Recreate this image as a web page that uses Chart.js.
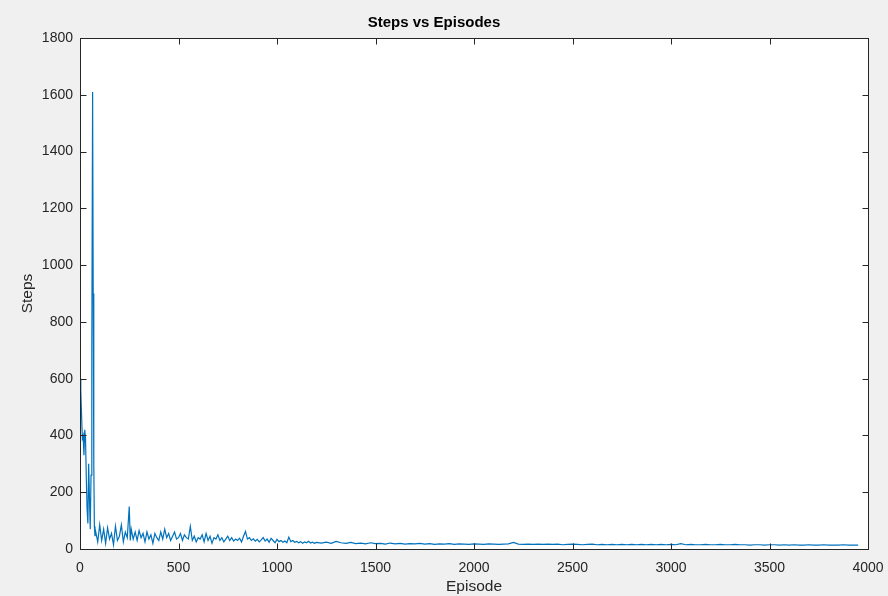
<!DOCTYPE html>
<html>
<head>
<meta charset="utf-8">
<script src="https://cdn.jsdelivr.net/npm/chart.js@4.4.1/dist/chart.umd.min.js"></script>
<style>
  html, body { margin: 0; padding: 0; background: #f0f0f0; }
  #wrap { width: 888px; height: 596px; }
</style>
</head>
<body>
<div id="wrap"><canvas id="c" width="888" height="596"></canvas></div>
<script>
const chartTitle = "Steps vs Episodes";
const xLabel = "Episode";
const yLabel = "Steps";
const xTicks = [0, 500, 1000, 1500, 2000, 2500, 3000, 3500, 4000];
const yTicks = [0, 200, 400, 600, 800, 1000, 1200, 1400, 1600, 1800];

const episodes = [
  0,4,8,12,16,20,24,28,32,36,40,44,48,52,56,60,64,67,70,73,76,
  80,90,100,110,120,130,140,150,160,170,180,190,200,210,220,230,240,250,255,260,270,280,290,
  300,310,320,330,340,350,360,370,380,390,400,410,420,430,440,450,460,470,480,490,
  500,510,520,530,540,550,560,570,580,590,600,610,620,630,640,650,660,670,680,690,
  700,710,720,730,740,750,760,770,780,790,800,810,820,830,840,850,860,870,880,890,
  900,910,920,930,940,950,960,970,980,990,1000,1010,1020,1030,1040,1050,1060,1070,1080,1090,
  1100,1110,1120,1130,1140,1150,1160,1170,1180,1190,1200,
  1225,1250,1275,1300,1325,1350,1375,1400,1425,1450,1475,1500,1525,1550,1575,1600,1625,1650,1675,1700,
  1725,1750,1775,1800,1825,1850,1875,1900,1925,1950,1975,2000,2025,2050,2075,2100,2125,2150,2175,2200,
  2225,2250,2275,2300,2325,2350,2375,2400,2425,2450,2475,2500,2525,2550,2575,2600,2625,2650,2675,2700,
  2725,2750,2775,2800,2825,2850,2875,2900,2925,2950,2975,3000,3025,3050,3075,3100,3125,3150,3175,3200,
  3225,3250,3275,3300,3325,3350,3375,3400,3425,3450,3475,3500,3525,3550,3575,3600,3625,3650,3675,3700,
  3725,3750,3775,3800,3825,3850,3875,3900,3925,3950
];
const steps = [
  600,560,470,390,400,330,420,390,250,140,90,300,180,70,260,700,1610,900,300,80,45,
  60,25,85,30,70,20,75,35,55,15,80,30,45,85,25,60,40,150,30,70,35,60,30,
  65,40,55,25,60,35,50,20,55,40,30,60,35,70,40,55,30,45,60,35,
  40,55,30,50,40,35,80,30,45,25,40,35,50,25,55,30,45,20,40,35,
  50,30,40,25,35,45,30,40,28,35,30,38,25,45,62,35,40,30,36,28,
  34,25,32,40,28,35,24,38,30,22,34,26,30,24,28,22,42,26,30,24,
  27,22,26,20,25,22,27,21,24,20,23,
  21,24,20,27,22,20,23,19,21,18,22,19,20,17,21,18,20,17,19,18,
  20,17,19,16,18,17,19,16,18,17,16,18,17,16,18,17,16,17,18,23,
  17,16,17,16,17,16,17,16,17,15,16,17,16,15,16,17,15,16,15,16,
  15,16,15,16,15,16,15,16,15,16,15,16,15,19,15,16,15,15,16,15,
  15,16,15,15,16,15,15,14,15,15,14,15,15,14,15,14,15,14,14,15,
  14,14,15,14,14,14,15,14,14,14
];

const points = episodes.map((e, i) => ({ x: e, y: steps[i] }));
const axisColor = "#262626";
const fontFam = "'Liberation Sans', Arial, Helvetica, sans-serif";

const frame = {
  id: "frame",
  beforeDraw(chart) {
    const { ctx, chartArea: a } = chart;
    ctx.save();
    ctx.fillStyle = "#f0f0f0";
    ctx.fillRect(0, 0, chart.width, chart.height);
    ctx.fillStyle = "#ffffff";
    ctx.fillRect(a.left, a.top, a.right - a.left, a.bottom - a.top);
    ctx.restore();
  },
  afterDraw(chart) {
    const { ctx, chartArea: a, scales } = chart;
    ctx.save();
    ctx.strokeStyle = axisColor;
    ctx.lineWidth = 1;
    const L = Math.round(a.left) + 0.5, R = Math.round(a.right) + 0.5;
    const T = Math.round(a.top) + 0.5, B = Math.round(a.bottom) + 0.5;
    ctx.strokeRect(L, T, R - L, B - T);
    const tl = 6;
    ctx.beginPath();
    xTicks.forEach(v => {
      const px = Math.round(scales.x.getPixelForValue(v)) + 0.5;
      ctx.moveTo(px, B); ctx.lineTo(px, B - tl);
      ctx.moveTo(px, T); ctx.lineTo(px, T + tl);
    });
    yTicks.forEach(v => {
      const py = Math.round(scales.y.getPixelForValue(v)) + 0.5;
      ctx.moveTo(L, py); ctx.lineTo(L + tl, py);
      ctx.moveTo(R, py); ctx.lineTo(R - tl, py);
    });
    ctx.stroke();
    ctx.restore();
  }
};

new Chart(document.getElementById("c"), {
  type: "line",
  data: {
    datasets: [{
      data: points,
      borderColor: "#0072BD",
      borderWidth: 1.2,
      pointRadius: 0,
      tension: 0,
      fill: false
    }]
  },
  options: {
    responsive: false,
    animation: false,
    devicePixelRatio: 1,
    layout: { padding: { left: 0, right: 20, top: 0, bottom: 0 } },
    plugins: {
      legend: { display: false },
      tooltip: { enabled: false },
      title: {
        display: true,
        text: chartTitle,
        color: "#000",
        font: { family: fontFam, size: 15, weight: "bold" },
        padding: { top: 14, bottom: 6 }
      }
    },
    scales: {
      x: {
        type: "linear",
        min: 0, max: 4000,
        afterBuildTicks(s) { s.ticks = xTicks.map(v => ({ value: v })); },
        afterFit(s) { s.height = 47; s.paddingLeft = 0; s.paddingRight = 0; },
        grid: { display: false, drawTicks: false },
        border: { display: false },
        ticks: { color: axisColor, font: { family: fontFam, size: 14 }, padding: 11, maxRotation: 0, autoSkip: false,
                 callback: v => String(v) },
        title: { display: true, text: xLabel, color: axisColor, font: { family: fontFam, size: 15.5 }, padding: { top: 0, bottom: 0 } }
      },
      y: {
        type: "linear",
        min: 0, max: 1800,
        afterBuildTicks(s) { s.ticks = yTicks.map(v => ({ value: v })); },
        afterFit(s) { s.width = 80; s.paddingTop = 0; s.paddingBottom = 0; },
        grid: { display: false, drawTicks: false },
        border: { display: false },
        ticks: { color: axisColor, font: { family: fontFam, size: 14 }, padding: 7, autoSkip: false,
                 callback: v => String(v) },
        title: { display: true, text: yLabel, color: axisColor, font: { family: fontFam, size: 15.5 }, padding: { top: 18, bottom: 0 } }
      }
    }
  },
  plugins: [frame]
});
</script>
</body>
</html>
